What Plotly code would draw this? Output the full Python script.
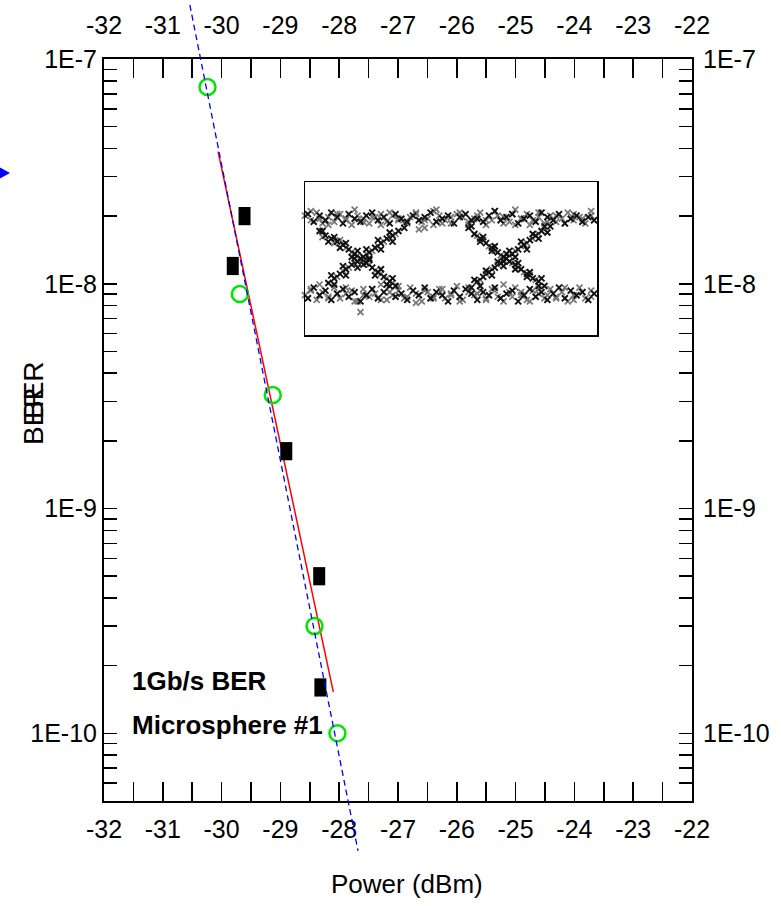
import math
import plotly.graph_objects as go

# ---------------- data ----------------
power_ticks = [-32, -31, -30, -29, -28, -27, -26, -25, -24, -23, -22]
power_tick_text = ["-32", "-31", "-30", "-29", "-28", "-27", "-26", "-25", "-24", "-23", "-22"]
ber_ticks = [1e-7, 1e-8, 1e-9, 1e-10]
ber_tick_text = ["1E-7", "1E-8", "1E-9", "1E-10"]

green_power = [-30.24, -29.69, -29.13, -28.42, -28.03]
green_ber = [7.5e-8, 9.0e-9, 3.2e-9, 3.0e-10, 1.0e-10]

square_power = [-29.61, -29.81, -28.90, -28.34, -28.32]
square_ber = [2.0e-8, 1.2e-8, 1.8e-9, 5.0e-10, 1.6e-10]

red_fit_power = [-30.06, -28.10]
red_fit_ber = [3.87e-8, 1.53e-10]

blue_fit_power = [-30.54, -27.68]
blue_fit_ber = [1.74e-7, 3.0e-11]

# eye-diagram inset (local 0-100 coordinates of the inset box)
eye_upper_x = [-2, 1, 3, 5, 7, 9, 11, 13, 15, 17, 19, 21, 23, 25, 27, 29, 31, 33, 35, 37, 39, 41, 43, 45, 47, 49,
               51, 53, 55, 57, 59, 61, 63, 65, 67, 69, 71, 73, 75, 77, 79, 81, 83, 85, 87, 89, 91, 93, 95, 97, 99]
eye_upper_y = [76, 79, 74, 78, 75, 80, 77, 73, 79, 76, 74, 78, 80, 75, 77, 73, 79, 76, 74, 78, 75, 77, 80, 74, 76, 78,
               73, 77, 79, 75, 76, 74, 78, 81, 75, 77, 79, 73, 76, 78, 74, 80, 77, 75, 79, 73, 76, 78, 74, 77, 75]
eye_lower_x = eye_upper_x
eye_lower_y = [28, 24, 31, 26, 29, 23, 27, 30, 25, 28, 22, 26, 30, 24, 28, 32, 25, 27, 23, 29, 26, 31, 24, 28, 26, 22,
               29, 25, 30, 27, 23, 28, 26, 31, 24, 27, 29, 22, 26, 30, 25, 28, 23, 27, 31, 24, 29, 26, 28, 23, 27]
eye_upper2_x = [0, 2, 4, 6, 8, 10, 12, 14, 16, 18, 20, 22, 24, 26, 28, 30, 32, 34, 36, 38, 40, 42, 44, 46, 48,
                50, 52, 54, 56, 58, 60, 62, 64, 66, 68, 70, 72, 74, 76, 78, 80, 82, 84, 86, 88, 90, 92, 94, 96, 98]
eye_upper2_y = [78, 75, 80, 73, 77, 74, 79, 76, 72, 78, 76, 73, 77, 79, 74, 78, 75, 73, 77, 80, 74, 76, 72, 78, 75,
                73, 79, 77, 74, 76, 80, 72, 75, 78, 77, 74, 72, 76, 79, 75, 77, 73, 78, 74, 76, 80, 75, 77, 73, 78]
eye_lower2_x = eye_upper2_x
eye_lower2_y = [26, 30, 23, 28, 25, 31, 24, 27, 29, 22, 30, 25, 27, 33, 23, 26, 29, 24, 31, 27, 22, 28, 25, 30, 24,
                27, 32, 23, 28, 26, 29, 24, 30, 25, 22, 28, 31, 26, 23, 29, 27, 24, 30, 25, 28, 22, 26, 31, 24, 29]
eye_upper3_x = [-1, 2, 5, 8, 11, 14, 17, 20, 23, 26, 29, 32, 35, 38, 41, 44, 47, 50, 53, 56,
                59, 62, 65, 68, 71, 74, 77, 80, 83, 86, 89, 92, 95, 98]
eye_upper3_y = [73, 81, 76, 72, 79, 75, 82, 74, 77, 72, 80, 76, 73, 79, 75, 81, 73, 77, 80, 72,
                78, 75, 81, 73, 79, 76, 72, 80, 74, 78, 73, 79, 76, 81]
eye_lower3_x = eye_upper3_x
eye_lower3_y = [21, 29, 33, 24, 27, 31, 22, 26, 30, 23, 28, 32, 25, 21, 29, 24, 30, 26, 22, 31,
                27, 23, 29, 33, 25, 28, 22, 30, 26, 24, 31, 23, 28, 25]
eye_arm_x = [5, 7, 9, 11, 13, 15, 17, 19, 21, 23, 25, 27, 29, 31,
             8, 10, 12, 14, 16, 18, 20, 22, 24, 26, 28, 30, 32, 34,
             56, 58, 60, 62, 64, 66, 68, 70, 72, 74, 76, 78, 80, 82,
             57, 59, 61, 63, 65, 67, 69, 71, 73, 75, 77, 79, 81, 84]
eye_arm_y = [68, 65, 63, 61, 59, 56, 53, 50, 47, 44, 41, 38, 35, 32,
             34, 37, 40, 43, 46, 48, 51, 54, 57, 60, 63, 65, 68, 70,
             70, 66, 63, 60, 57, 54, 51, 48, 46, 43, 40, 37, 35, 32,
             31, 35, 38, 41, 44, 47, 50, 53, 56, 59, 62, 65, 68, 71]
eye_arm2_x = [6, 10, 14, 18, 22, 26, 30, 12, 16, 20, 24, 28,
              11, 15, 19, 23, 27, 31, 13, 17, 21, 25, 29,
              59, 63, 67, 71, 75, 79, 61, 65, 69, 73, 77,
              60, 64, 68, 72, 76, 80, 62, 66, 70, 74, 78,
              19, 72, 45, 39, 41]
eye_arm2_y = [64, 60, 57, 52, 46, 40, 34, 62, 54, 49, 42, 37,
              38, 44, 49, 55, 61, 66, 42, 47, 53, 58, 64,
              65, 58, 52, 47, 41, 36, 62, 55, 50, 44, 39,
              36, 43, 49, 55, 60, 66, 40, 46, 52, 58, 63,
              15, 82, 82, 69, 70]
eye_arm3_x = [6, 10, 14, 18, 22, 26, 30, 8, 12, 16, 20, 24, 28,
              9, 13, 17, 21, 25, 29, 10, 14, 18, 22, 26, 30,
              57, 61, 65, 69, 73, 77, 81, 60, 64, 68, 72, 76, 80,
              58, 62, 66, 70, 74, 78, 82, 60, 64, 68, 72, 76, 80, 83]
eye_arm3_y = [68, 64, 60, 55, 49, 43, 37, 61, 57, 51, 46, 39, 33,
              39, 45, 50, 56, 62, 67, 33, 39, 44, 50, 56, 61,
              71, 64, 58, 53, 47, 41, 37, 61, 55, 48, 43, 38, 32,
              36, 42, 48, 55, 61, 66, 71, 32, 39, 45, 51, 56, 63, 67]

# ---------------- layout geometry ----------------
W, H = 781, 906
PL, PR, PT, PB = 104, 692, 59, 801          # plot-area edges in pixels
X_RANGE = [-32, -22]
Y_RANGE = [math.log10(5e-11), -7]
INSET = (305, 597, 182, 335)                 # left, right, top, bottom pixels

FONT = "Liberation Sans, Arial, sans-serif"
BLACK = "#000000"


def px_x(p):
    return p / W


def px_y(p):
    return 1 - p / H


# overlay axes spanning the whole figure, aligned with the main axes
ppx = (PR - PL) / (X_RANGE[1] - X_RANGE[0])
ppy = (PB - PT) / (Y_RANGE[1] - Y_RANGE[0])
x3_range = [X_RANGE[0] - PL / ppx, X_RANGE[1] + (W - PR) / ppx]
y3_range = [Y_RANGE[0] - (H - PB) / ppy, Y_RANGE[1] + PT / ppy]

x_minor = [v + 0.5 for v in power_ticks[:-1]]
y_minor = [k * 10.0 ** e for e in range(-11, -7) for k in range(2, 10)]

fig = go.Figure()

# red fit line
fig.add_trace(go.Scatter(x=red_fit_power, y=red_fit_ber, mode="lines",
                         line=dict(color="#ff0000", width=1.5), xaxis="x", yaxis="y",
                         showlegend=False, hoverinfo="skip"))
# black rectangles
fig.add_trace(go.Scatter(x=square_power, y=square_ber, mode="markers",
                         marker=dict(symbol="line-ns", size=13, color=BLACK,
                                     line=dict(color=BLACK, width=12)),
                         xaxis="x", yaxis="y", showlegend=False))
# green open circles
fig.add_trace(go.Scatter(x=green_power, y=green_ber, mode="markers",
                         marker=dict(symbol="circle-open", size=16, color="#00e600",
                                     line=dict(color="#00e600", width=2.5)),
                         xaxis="x", yaxis="y", showlegend=False))
# helper traces so label axes exist
fig.add_trace(go.Scatter(x=[], y=[], xaxis="x2", yaxis="y", showlegend=False))
fig.add_trace(go.Scatter(x=[], y=[], xaxis="x", yaxis="y2", showlegend=False))

# blue dashed fit, on a full-figure overlay so it can run past the frame
fig.add_trace(go.Scatter(x=blue_fit_power, y=blue_fit_ber, mode="lines",
                         line=dict(color="#0000ff", width=1.3, dash="6px,4px"),
                         xaxis="x3", yaxis="y3", showlegend=False, hoverinfo="skip"))

# eye diagram inset
fig.add_trace(go.Scatter(x=eye_upper2_x + eye_lower2_x + eye_upper3_x + eye_lower3_x + eye_arm2_x,
                         y=eye_upper2_y + eye_lower2_y + eye_upper3_y + eye_lower3_y + eye_arm2_y,
                         mode="markers", cliponaxis=False,
                         marker=dict(symbol="x-thin", size=6, line=dict(color="#767676", width=1.7)),
                         xaxis="x4", yaxis="y4", showlegend=False, hoverinfo="skip"))
fig.add_trace(go.Scatter(x=eye_upper_x + eye_lower_x + eye_arm_x + eye_arm3_x,
                         y=eye_upper_y + eye_lower_y + eye_arm_y + eye_arm3_y,
                         mode="markers", cliponaxis=False,
                         marker=dict(symbol="x-thin", size=6, line=dict(color="#111111", width=1.9)),
                         xaxis="x4", yaxis="y4", showlegend=False, hoverinfo="skip"))

tick_font = dict(family=FONT, size=25, color=BLACK)

fig.update_layout(
    width=W, height=H,
    margin=dict(l=0, r=0, t=0, b=0, pad=0),
    paper_bgcolor="white", plot_bgcolor="rgba(0,0,0,0)",
    showlegend=False,
    xaxis=dict(domain=[px_x(PL), px_x(PR)], range=X_RANGE, anchor="y",
               tickmode="array", tickvals=power_ticks, ticktext=power_tick_text,
               ticks="inside", ticklen=19, tickwidth=1.5, tickcolor=BLACK,
               minor=dict(tickmode="array", tickvals=x_minor, ticks="inside", ticklen=9,
                          tickwidth=1.5, tickcolor=BLACK, showgrid=False),
               showline=True, linewidth=2, linecolor=BLACK, mirror="allticks",
               showgrid=False, zeroline=False, tickfont=tick_font,
               ticklabelstandoff=5, automargin=False),
    xaxis2=dict(overlaying="x", side="top", range=X_RANGE, anchor="y",
                tickmode="array", tickvals=power_ticks, ticktext=power_tick_text,
                ticks="", showline=False, showgrid=False, zeroline=False,
                tickfont=tick_font, ticklabelstandoff=19, automargin=False),
    yaxis=dict(domain=[px_y(PB), px_y(PT)], type="log", range=Y_RANGE, anchor="x",
               tickmode="array", tickvals=ber_ticks, ticktext=ber_tick_text,
               ticks="inside", ticklen=13, tickwidth=1.5, tickcolor=BLACK,
               minor=dict(tickmode="array", tickvals=y_minor, ticks="inside", ticklen=7,
                          tickwidth=1.5, tickcolor=BLACK, showgrid=False),
               showline=True, linewidth=2, linecolor=BLACK, mirror="allticks",
               showgrid=False, zeroline=False, tickfont=tick_font,
               ticklabelstandoff=0, automargin=False),
    yaxis2=dict(overlaying="y", side="right", type="log", range=Y_RANGE, anchor="x",
                tickmode="array", tickvals=ber_ticks, ticktext=ber_tick_text,
                ticks="", showline=False, showgrid=False, zeroline=False,
                tickfont=tick_font, ticklabelstandoff=10, automargin=False),
    xaxis3=dict(domain=[0, 1], range=x3_range, anchor="y3", visible=False, fixedrange=True),
    yaxis3=dict(domain=[0, 1], type="log", range=y3_range, anchor="x3", visible=False, fixedrange=True),
    xaxis4=dict(domain=[px_x(INSET[0]), px_x(INSET[1])], range=[0, 100], anchor="y4",
                showline=True, linewidth=1.5, linecolor=BLACK, mirror=True, ticks="",
                showticklabels=False, showgrid=False, zeroline=False),
    yaxis4=dict(domain=[px_y(INSET[3]), px_y(INSET[2])], range=[0, 100], anchor="x4",
                showline=True, linewidth=1.5, linecolor=BLACK, mirror=True, ticks="",
                showticklabels=False, showgrid=False, zeroline=False),
)

annot_font = dict(family=FONT, size=26, color=BLACK, weight="bold")
fig.add_annotation(text="1Gb/s BER", x=px_x(130), y=px_y(681), xref="paper", yref="paper",
                   xanchor="left", yanchor="middle", showarrow=False, font=annot_font)
fig.add_annotation(text="Microsphere #1", x=px_x(130), y=px_y(725), xref="paper", yref="paper",
                   xanchor="left", yanchor="middle", showarrow=False, font=annot_font)
fig.add_annotation(text="Power (dBm)", x=px_x(407), y=px_y(884), xref="paper", yref="paper",
                   xanchor="center", yanchor="middle", showarrow=False,
                   font=dict(family=FONT, size=26, color=BLACK))
for yc in (390, 416):
    fig.add_annotation(text="BER", x=px_x(33), y=px_y(yc), xref="paper", yref="paper",
                       xanchor="center", yanchor="middle", textangle=-90, showarrow=False,
                       font=dict(family=FONT, size=28, color=BLACK))

# small blue arrow head at the left edge
fig.add_shape(type="path", xref="paper", yref="paper",
              path="M {:.5f},{:.5f} L {:.5f},{:.5f} L {:.5f},{:.5f} Z".format(
                  px_x(-3), px_y(166), px_x(10), px_y(173), px_x(-3), px_y(180)),
              fillcolor="#0000ff", line=dict(color="#0000ff", width=0))

fig.write_html("out.html",
               config={"displayModeBar": False, "staticPlot": True},
               post_script="document.body.style.margin='0px';document.body.style.overflow='hidden';")
